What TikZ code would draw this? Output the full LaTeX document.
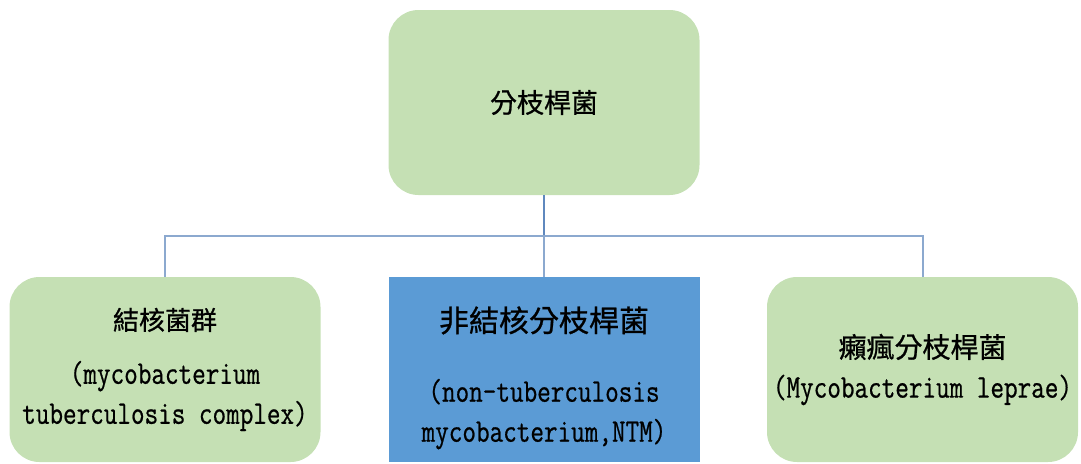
\documentclass[tikz,border=0pt]{standalone}
\usepackage{fontspec}
\setmonofont[FakeStretch=0.8,FakeBold=0.6]{Latin Modern Mono}
\newfontfamily\cjk[FakeBold=0.8]{Noto Sans CJK TC}
\definecolor{boxgreen}{HTML}{C5E0B4}
\definecolor{boxblue}{HTML}{5B9BD5}
\definecolor{linkblue}{HTML}{8CA9CF}
\definecolor{stemblue}{HTML}{5F88BE}
\tikzset{
  groupbox/.style={fill=boxgreen, rounded corners=15pt, inner sep=0pt,
    minimum width=155.5pt, minimum height=92.5pt, align=center,
    font=\ttfamily\fontsize{16.5pt}{20pt}\selectfont},
  ntmbox/.style={groupbox, fill=boxblue, rounded corners=0pt},
  link/.style={draw=linkblue, line width=1pt},
  stem/.style={draw=stemblue, line width=1pt}
}
\begin{document}
\begin{tikzpicture}[x=0.5pt,y=0.5pt]
\useasboundingbox (0,0) rectangle (1081,463);

\node[groupbox] (genus) at (544,360.5)
{{\cjk\fontsize{13.5pt}{20pt}\selectfont 分枝桿菌}};

\node[groupbox] (mtbc) at (165,93.5)
{{\cjk\fontsize{13pt}{20pt}\selectfont 結核菌群}\\[7pt]
(mycobacterium\\
tuberculosis complex)};

\node[ntmbox] (ntm) at (544,93.5)
{\rule{0pt}{21pt}{\cjk\fontsize{15pt}{20pt}\selectfont 非結核分枝桿菌}\\[15pt]
(non-tuberculosis\\
mycobacterium,NTM)};

\node[groupbox] (leprae) at (922.5,93.5)
{{\cjk\fontsize{14pt}{20pt}\selectfont 癩瘋分枝桿菌}\\
(Mycobacterium leprae)};

\coordinate (bus) at (544,227);
\draw[stem] (genus.south) -- (bus);
\draw[link] (bus) -| (mtbc.north);
\draw[link] (bus) -| (leprae.north);
\draw[link] (bus) -- (ntm.north);
\end{tikzpicture}
\end{document}
